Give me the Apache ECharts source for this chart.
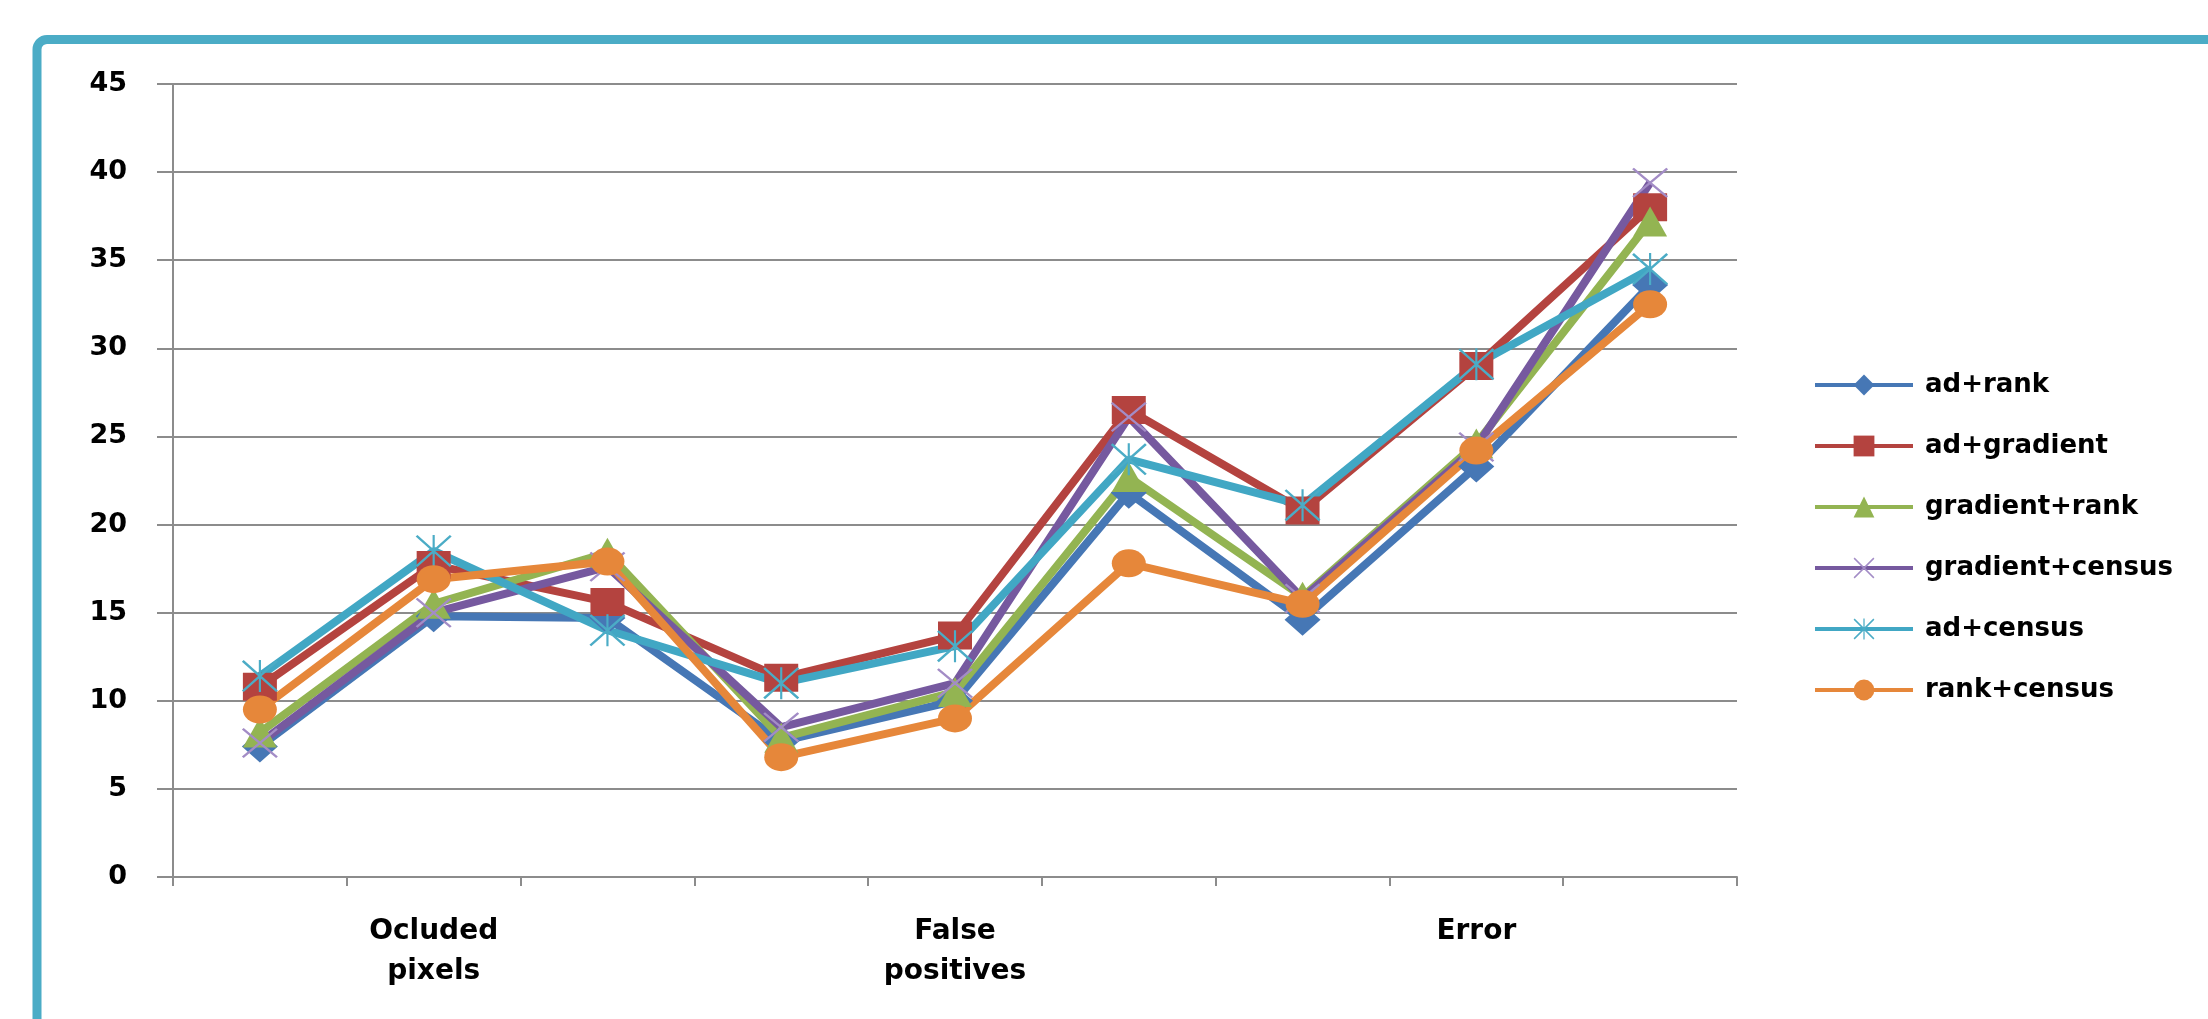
<!DOCTYPE html>
<html>
<head>
<meta charset="utf-8">
<script src="https://cdn.jsdelivr.net/npm/echarts@6/dist/echarts.min.js"></script>
<style>
html, body { margin: 0; padding: 0; background: #fff; }
#main { width: 2208px; height: 1019px; }
</style>
</head>
<body>
<div id="main"></div>
<script>
var categories = ['', 'Ocluded\npixels', '', '', 'False\npositives', '', '', 'Error', ''];
var yTicks = [0, 5, 10, 15, 20, 25, 30, 35, 40, 45];

var adRank = [7.4, 14.8, 14.7, 7.7, 10.0, 21.8, 14.6, 23.3, 33.6];
var adGradient = [10.8, 17.7, 15.6, 11.3, 13.7, 26.5, 20.8, 29.0, 38.0];
var gradientRank = [8.2, 15.5, 18.4, 7.9, 10.5, 22.7, 15.9, 24.6, 37.2];
var gradientCensus = [7.6, 15.0, 17.6, 8.5, 11.0, 26.1, 15.8, 24.4, 39.4];
var adCensus = [11.4, 18.5, 14.0, 11.0, 13.1, 23.7, 21.1, 29.1, 34.5];
var rankCensus = [9.5, 16.9, 17.9, 6.8, 9.0, 17.8, 15.5, 24.2, 32.5];

// thin stroked markers (excel style x and star)
var xMark = 'path://M0,5 L5,0 L100,95 L95,100 Z M95,0 L100,5 L5,100 L0,95 Z';
var starMark = 'path://M0,5 L5,0 L100,95 L95,100 Z M95,0 L100,5 L5,100 L0,95 Z M47,0 L53,0 L53,100 L47,100 Z';

var font = 'DejaVu Sans';

function makeSeries(name, data, color, symbol, size, markColor) {
    return {
        name: name,
        type: 'line',
        data: data,
        symbol: symbol,
        symbolSize: size,
        showAllSymbol: true,
        lineStyle: { color: color, width: 8 },
        itemStyle: { color: markColor || color },
        emphasis: { disabled: true },
        animation: false
    };
}

var myChart = echarts.init(document.getElementById('main'));
var option = {
    backgroundColor: '#ffffff',
    animation: false,
    graphic: [{
        type: 'rect',
        shape: { x: 37, y: 39.5, width: 3000, height: 3000, r: 10 },
        style: { fill: 'none', stroke: '#4BACC6', lineWidth: 9 },
        z: 100
    }],
    grid: {
        left: 173,
        right: 471,
        top: 84,
        bottom: 142
    },
    legend: {
        orient: 'vertical',
        left: 1808,
        top: 367,
        itemWidth: 98,
        itemHeight: 26,
        itemGap: 35,
        lineStyle: { width: 4 },
        textStyle: {
            fontFamily: font,
            fontWeight: 'bold',
            fontSize: 26,
            color: '#000',
            padding: [0, 0, 0, 7]
        },
        data: ['ad+rank', 'ad+gradient', 'gradient+rank', 'gradient+census', 'ad+census', 'rank+census']
    },
    xAxis: {
        type: 'category',
        data: categories,
        boundaryGap: true,
        axisLine: { lineStyle: { color: '#8c8c8c', width: 2 } },
        axisTick: { show: true, interval: 0, length: 9, lineStyle: { color: '#8c8c8c', width: 2 } },
        axisLabel: {
            interval: 0,
            margin: 35,
            fontFamily: font,
            fontWeight: 'bold',
            fontSize: 28,
            lineHeight: 40,
            color: '#000'
        }
    },
    yAxis: {
        type: 'value',
        min: yTicks[0],
        max: yTicks[yTicks.length - 1],
        interval: 5,
        axisLine: { show: true, lineStyle: { color: '#8c8c8c', width: 2 } },
        axisTick: { show: true, length: 16, lineStyle: { color: '#8c8c8c', width: 2 } },
        splitLine: { lineStyle: { color: '#8c8c8c', width: 2 } },
        axisLabel: {
            margin: 46,
            fontFamily: font,
            fontWeight: 'bold',
            fontSize: 27,
            color: '#000'
        }
    },
    series: [
        makeSeries('ad+rank', adRank, '#4677B5', 'diamond', [36, 32]),
        makeSeries('ad+gradient', adGradient, '#B4433F', 'rect', [34, 28]),
        makeSeries('gradient+rank', gradientRank, '#93B452', 'triangle', [34, 30]),
        makeSeries('gradient+census', gradientCensus, '#76599F', xMark, [36, 30], '#A38CC6'),
        makeSeries('ad+census', adCensus, '#41A7C4', starMark, [36, 32], '#4BACC6'),
        makeSeries('rank+census', rankCensus, '#E6873A', 'circle', [34, 28])
    ]
};
myChart.setOption(option);
</script>
</body>
</html>
